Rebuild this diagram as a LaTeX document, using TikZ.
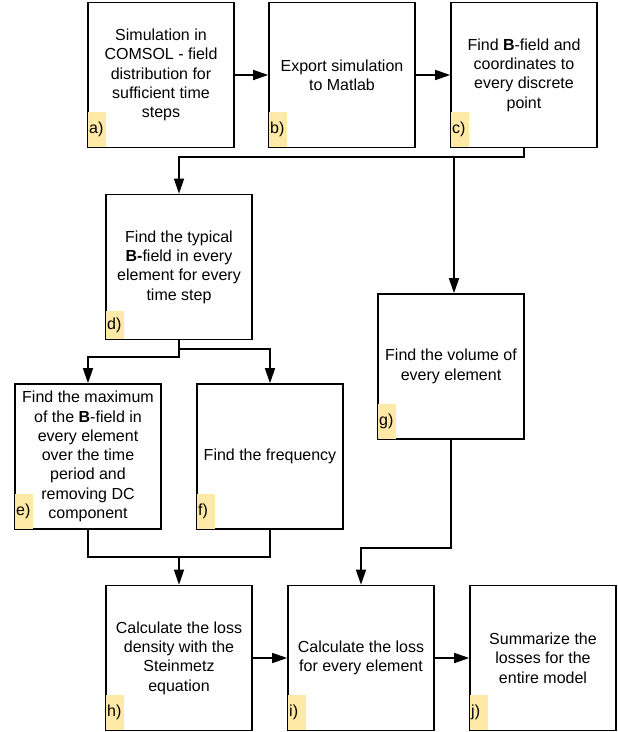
\documentclass[tikz,border=0pt]{standalone}
\usepackage{fontspec}
\setmainfont{Liberation Sans}
\usetikzlibrary{arrows.meta}
\definecolor{labfill}{HTML}{FFE9A6}
\begin{document}
\begin{tikzpicture}[x=1pt,y=-1pt,
  box/.style={draw=black, line width=1.6pt, fill=white, minimum width=146pt, minimum height=145pt, align=center, inner sep=0pt, font=\fontsize{16}{19.3}\selectfont},
  lab/.style={fill=labfill, minimum width=18pt, minimum height=35pt, inner sep=1pt, anchor=south west, align=left, text width=16pt, font=\fontsize{16}{19}\selectfont, xshift=0.8pt, yshift=0.8pt},
  arr/.style={line width=1.4pt, -{Triangle[length=15pt,width=10pt]}},
  con/.style={line width=1.4pt}]
\useasboundingbox (0,0) rectangle (618,732);

% boxes
\node[box] (a) at (161,75) {Simulation in\\COMSOL - field\\distribution for\\sufficient time\\steps};
\node[box] (b) at (342,75) {Export simulation\\to Matlab};
\node[box] (c) at (524,75) {Find \textbf{B}-field and\\coordinates to\\every discrete\\point};
\node[box] (d) at (179,267) {Find the typical\\\textbf{B-}field in every\\element for every\\time step};
\node[box] (e) at (88,456.5) {Find the maximum\\of the \textbf{B}-field in\\every element\\over the time\\period and\\removing DC\\component};
\node[box] (f) at (270,456.5) {Find the frequency};
\node[box] (g) at (451,366.5) {Find the volume of\\every element};
\node[box] (h) at (179,658) {Calculate the loss\\density with the\\Steinmetz\\equation};
\node[box] (i) at (361,658) {Calculate the loss\\for every element};
\node[box] (j) at (543,658) {Summarize the\\losses for the\\entire model};

% labels
\node[lab] (la) at (a.south west) {a)};
\node[lab] (lb) at (b.south west) {b)};
\node[lab] (lc) at (c.south west) {c)};
\node[lab, minimum height=28pt] (ld) at (d.south west) {d)};
\node[lab] (le) at (e.south west) {e)};
\node[lab] (lf) at (f.south west) {f)};
\node[lab] (lg) at (g.south west) {g)};
\node[lab] (lh) at (h.south west) {h)};
\node[lab] (li) at (i.south west) {i)};
\node[lab] (lj) at (j.south west) {j)};

% helper coordinates
\coordinate (ycd) at (0,157);
\coordinate (ydf) at (0,349);
\coordinate (yde) at (0,357);
\coordinate (ygi) at (0,548);
\coordinate (yh) at (0,557);
\coordinate (jg) at (454,157);

% connectors
\draw[arr] (a.east) -- (b.west);
\draw[arr] (b.east) -- (c.west);
\draw[arr] (c.south) -- (c.south |- ycd) -| (d.north);
\draw[arr] (jg) -- (jg |- g.north);
\draw[arr] (d.south) -- (d.south |- ydf) -| (f.north);
\draw[arr] (d.south) -- (d.south |- yde) -| (e.north);
\draw[con] (e.south) |- (f.south |- yh) -- (f.south);
\draw[arr] (h.north |- yh) -- (h.north);
\draw[arr] (g.south) |- (i.north |- ygi) -- (i.north);
\draw[arr] (h.east) -- (i.west);
\draw[arr] (i.east) -- (j.west);
\end{tikzpicture}
\end{document}
